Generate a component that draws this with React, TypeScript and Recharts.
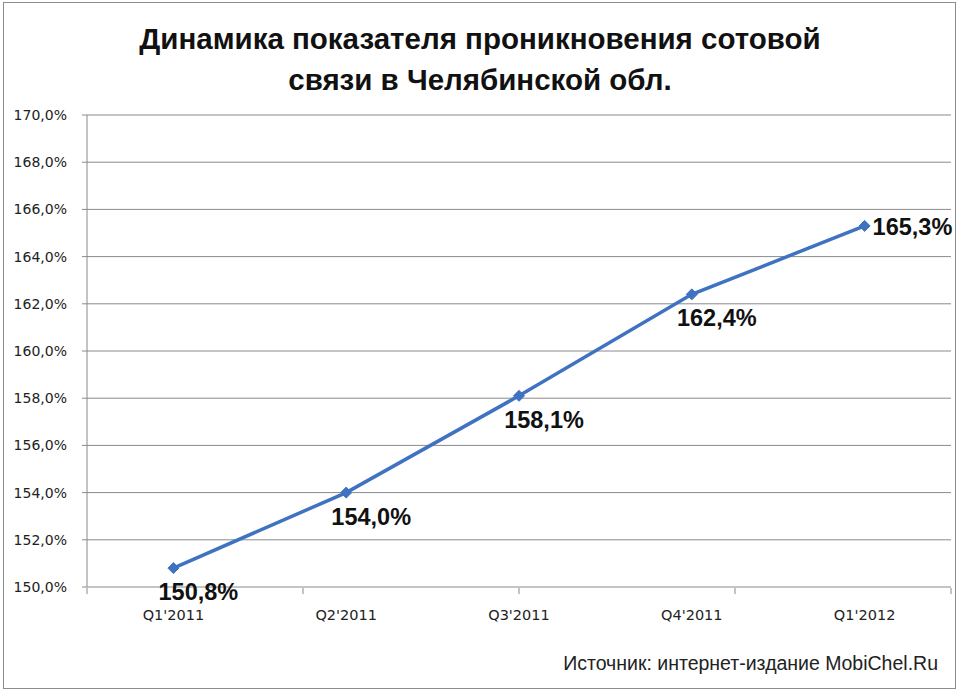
import React from "react";
import { LineChart, Line, XAxis, YAxis, CartesianGrid, LabelList } from "recharts";

const categories = ["Q1'2011", "Q2'2011", "Q3'2011", "Q4'2011", "Q1'2012"];
const penetration = [150.8, 154.0, 158.1, 162.4, 165.3];
const yTicks = [150, 152, 154, 156, 158, 160, 162, 164, 166, 168, 170];
const boundaryTicks = [0, 1, 2, 3, 4, 5];

const data = categories.map((q, i) => ({ q, v: penetration[i] }));

const fmt = (v: number) => v.toFixed(1).replace(".", ",") + "%";

const LINE = "#3F72C0";

const Diamond = (props: any) => {
  const { cx, cy } = props;
  if (cx == null || cy == null) return null;
  const r = 5.5;
  return (
    <polygon
      points={`${cx},${cy - r} ${cx + r},${cy} ${cx},${cy + r} ${cx - r},${cy}`}
      fill={LINE}
      stroke={LINE}
    />
  );
};

const DataLabel = (props: any) => {
  const { x, y, value, index } = props;
  const last = index === penetration.length - 1;
  return (
    <text
      x={last ? x + 8 : x + 25}
      y={last ? y + 1 : y + 24}
      textAnchor={last ? "start" : "middle"}
      dominantBaseline="central"
      fontFamily="'Liberation Sans', Arial, sans-serif"
      fontWeight="bold"
      fontSize={23.5}
      fill="#111"
    >
      {fmt(value)}
    </text>
  );
};

export default function App() {
  return (
    <div style={{ position: "absolute", left: 0, top: 0, width: 960, height: 694, background: "#fff", overflow: "hidden" }}>
      <div
        style={{
          position: "absolute",
          left: 3,
          top: 2,
          width: 953,
          height: 687,
          border: "1px solid #8c8c8c",
          boxSizing: "border-box",
        }}
      />
      <div
        style={{
          position: "absolute",
          left: 0,
          top: 18,
          width: 960,
          textAlign: "center",
          fontFamily: "'Liberation Sans', Arial, sans-serif",
          fontWeight: "bold",
          fontSize: 29.5,
          lineHeight: "41px",
          color: "#111",
        }}
      >
        <div>Динамика показателя проникновения сотовой</div>
        <div>связи в Челябинской обл.</div>
      </div>
      <LineChart
        width={960}
        height={694}
        data={data}
        margin={{ top: 115, right: 9, bottom: 105, left: 0 }}
        style={{ position: "absolute", left: 0, top: 0 }}
      >
        <CartesianGrid vertical={false} stroke="#8a8a8a" strokeWidth={1} />
        <XAxis
          xAxisId="bounds"
          type="number"
          domain={[0, 5]}
          ticks={boundaryTicks}
          allowDataOverflow
          height={1}
          axisLine={false}
          tickLine={{ stroke: "#8a8a8a" }}
          tickSize={6}
          tickFormatter={() => ""}
        />
        <XAxis
          dataKey="q"
          type="category"
          scale="band"
          height={1}
          axisLine={false}
          tickLine={false}
          tickSize={0}
          tickMargin={23}
          tick={{ fontFamily: "'DejaVu Sans', Verdana, sans-serif", fontSize: 14.5, fill: "#222" }}
          interval={0}
        />
        <YAxis
          domain={[150, 170]}
          ticks={yTicks}
          width={87}
          axisLine={{ stroke: "#8a8a8a" }}
          tickLine={{ stroke: "#8a8a8a" }}
          tickSize={5}
          tickMargin={15}
          tickFormatter={fmt}
          tick={{ fontFamily: "'DejaVu Sans', Verdana, sans-serif", fontSize: 14, fill: "#222" }}
          interval={0}
        />
        <Line
          dataKey="v"
          stroke={LINE}
          strokeWidth={3.5}
          dot={<Diamond />}
          activeDot={false}
          isAnimationActive={false}
        >
          <LabelList dataKey="v" content={<DataLabel />} />
        </Line>
      </LineChart>
      <div
        style={{
          position: "absolute",
          right: 22,
          top: 652,
          fontFamily: "'Liberation Sans', Arial, sans-serif",
          fontSize: 19.5,
          color: "#222",
          whiteSpace: "nowrap",
        }}
      >
        Источник: интернет-издание MobiChel.Ru
      </div>
    </div>
  );
}
